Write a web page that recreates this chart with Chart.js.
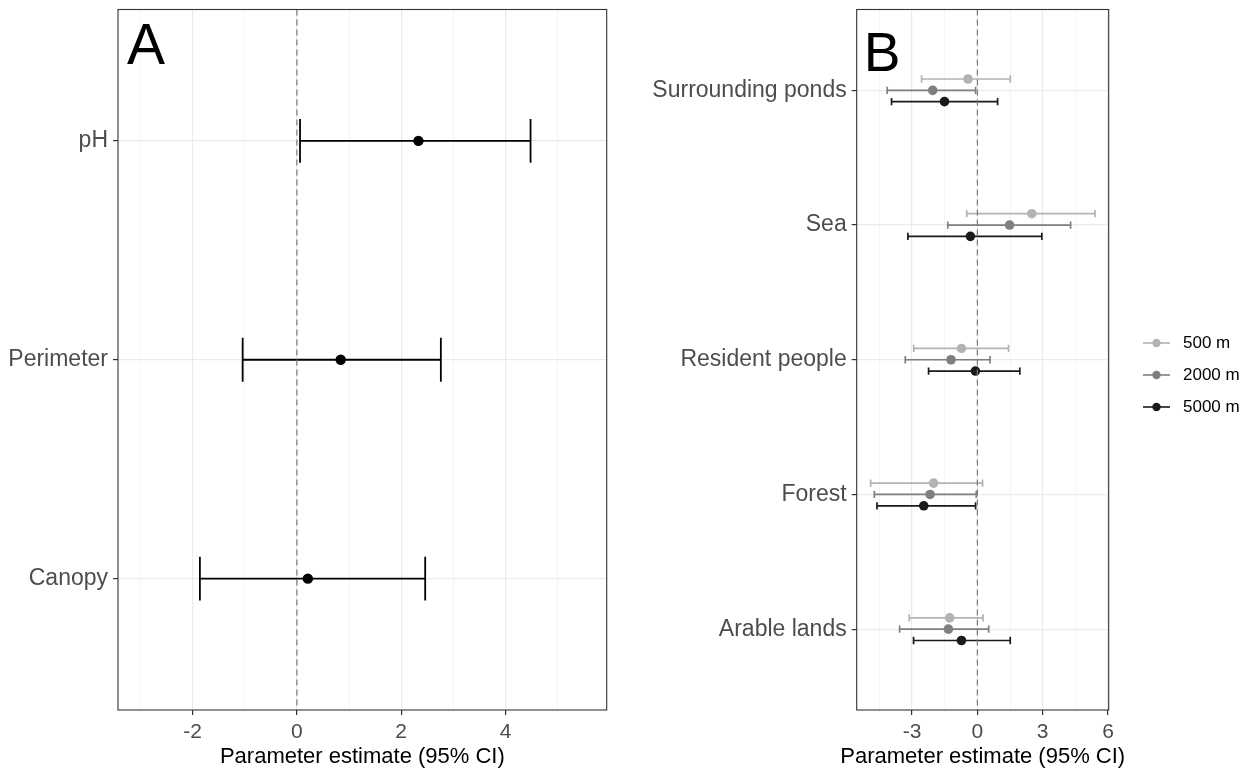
<!DOCTYPE html>
<html><head><meta charset="utf-8">
<script src="https://cdn.jsdelivr.net/npm/chart.js@4"></script>
<style>
html,body{margin:0;padding:0;background:#fff;}
#wrap{position:relative;width:1254px;height:769px;overflow:hidden;background:#fff;}
#ca{position:absolute;left:0;top:0;}
#cb{position:absolute;left:615px;top:0;}
</style></head><body>
<div id="wrap">
<canvas id="ca" width="620" height="769"></canvas>
<canvas id="cb" width="639" height="769"></canvas>
</div>
<script>
// ---------- data ----------
const xTitle = 'Parameter estimate (95% CI)';

const catsA = ['pH', 'Perimeter', 'Canopy'];
const estA  = [2.33, 0.84, 0.21];
const lowA  = [0.06, -1.04, -1.86];
const highA = [4.48, 2.76, 2.46];
const ticksA = [-2, 0, 2, 4];

const catsB = ['Surrounding ponds', 'Sea', 'Resident people', 'Forest', 'Arable lands'];
const seriesNames = ['500 m', '2000 m', '5000 m'];
const est500  = [-0.43, 2.50, -0.73, -2.01, -1.27];
const low500  = [-2.56, -0.49, -2.92, -4.90, -3.13];
const high500 = [1.51, 5.40, 1.43, 0.24, 0.26];
const est2000  = [-2.05, 1.48, -1.21, -2.17, -1.33];
const low2000  = [-4.14, -1.36, -3.31, -4.73, -3.57];
const high2000 = [-0.08, 4.28, 0.58, -0.05, 0.52];
const est5000  = [-1.51, -0.32, -0.09, -2.46, -0.73];
const low5000  = [-3.94, -3.19, -2.24, -4.61, -2.93];
const high5000 = [0.93, 2.96, 1.95, -0.08, 1.51];
const ticksB = [-3, 0, 3, 6];

// ---------- styling ----------
const FONT = "'Liberation Sans', Arial, sans-serif";
const seriesColors = ['#b3b3b3', '#7f7f7f', '#1a1a1a'];

function points(cats, est, lo, hi, off) {
  const n = cats.length;
  return cats.map((c, i) => ({ x: est[i], y: n - i + off, lo: lo[i], hi: hi[i] }));
}

const errPlugin = {
  id: 'err',
  beforeDatasetsDraw(chart) {
    const { ctx, scales: { x, y } } = chart;
    const a = chart.chartArea;
    ctx.save();
    ctx.beginPath(); ctx.rect(a.left, a.top, a.right - a.left, a.bottom - a.top); ctx.clip();
    chart.data.datasets.forEach(ds => {
      ctx.strokeStyle = ds.barColor; ctx.lineWidth = ds.barWidth;
      ds.data.forEach(p => {
        const x1 = x.getPixelForValue(p.lo), x2 = x.getPixelForValue(p.hi), yy = y.getPixelForValue(p.y);
        const y1 = y.getPixelForValue(p.y + ds.capHalf), y2 = y.getPixelForValue(p.y - ds.capHalf);
        ctx.beginPath();
        ctx.moveTo(x1, yy); ctx.lineTo(x2, yy);
        ctx.moveTo(x1, y1); ctx.lineTo(x1, y2);
        ctx.moveTo(x2, y1); ctx.lineTo(x2, y2);
        ctx.stroke();
      });
    });
    ctx.restore();
  },
  afterDatasetsDraw(chart) {
    const { ctx, scales: { x } } = chart;
    const a = chart.chartArea;
    const px = x.getPixelForValue(0);
    ctx.save();
    ctx.strokeStyle = '#7a7a7a'; ctx.lineWidth = 1.2; ctx.setLineDash([6, 4]);
    ctx.beginPath(); ctx.moveTo(px, a.top); ctx.lineTo(px, a.bottom); ctx.stroke();
    ctx.restore();
  },
  afterDraw(chart, args, opts) {
    const { ctx } = chart;
    const a = chart.chartArea;
    ctx.save();
    ctx.strokeStyle = '#333'; ctx.lineWidth = 1.1;
    ctx.strokeRect(a.left, a.top, a.right - a.left, a.bottom - a.top);
    // panel letter
    ctx.fillStyle = '#000';
    ctx.font = opts.panelSize + 'px ' + FONT;
    ctx.textBaseline = 'alphabetic'; ctx.textAlign = 'left';
    ctx.fillText(opts.panel, a.left + opts.panelDx, opts.panelBase);
    // axis title (drawn without width compression)
    ctx.font = '22px ' + FONT; ctx.textAlign = 'center';
    ctx.fillText(xTitle, (a.left + a.right) / 2, 763);
    // legend
    if (opts.legend) {
      ctx.textAlign = 'left';
      chart.data.datasets.forEach((ds, i) => {
        const yy = opts.legend.y0 + i * opts.legend.dy;
        ctx.strokeStyle = ds.barColor; ctx.lineWidth = 1.6;
        ctx.beginPath(); ctx.moveTo(opts.legend.x0, yy); ctx.lineTo(opts.legend.x0 + 27, yy); ctx.stroke();
        ctx.fillStyle = ds.pointBackgroundColor;
        ctx.beginPath(); ctx.arc(opts.legend.x0 + 13.5, yy, 4.2, 0, Math.PI * 2); ctx.fill();
        ctx.fillStyle = '#000'; ctx.font = '17px ' + FONT; ctx.textBaseline = 'middle';
        ctx.fillText(ds.label, opts.legend.x0 + 40, yy);
      });
    }
    ctx.restore();
  }
};

function makeOpts(cfg) {
  const n = cfg.cats.length;
  return {
    responsive: false, animation: false, events: [],
    layout: { padding: { left: 0, right: cfg.padRight, top: 9.5, bottom: 0 } },
    plugins: {
      legend: { display: false }, tooltip: { enabled: false },
      err: { panel: cfg.panel, panelDx: cfg.panelDx, panelBase: cfg.panelBase, panelSize: cfg.panelSize, legend: cfg.legend }
    },
    scales: {
      x: {
        type: 'linear', min: cfg.xmin, max: cfg.xmax,
        afterBuildTicks: s => { s.ticks = cfg.gridX.map(v => ({ value: v })); },
        afterFit: s => { s.height = 59; s.paddingLeft = 0; s.paddingRight = 0; },
        ticks: {
          autoSkip: false, maxRotation: 0, padding: 5, color: '#4d4d4d',
          font: { family: FONT, size: 21 },
          callback: v => cfg.xTicks.includes(v) ? String(v) : ''
        },
        grid: {
          color: c => cfg.xTicks.includes(c.tick && c.tick.value) ? '#ebebeb' : '#f2f2f2',
          lineWidth: c => cfg.xTicks.includes(c.tick && c.tick.value) ? 1.2 : 0.8,
          tickColor: c => cfg.xTicks.includes(c.tick && c.tick.value) ? '#333' : 'rgba(0,0,0,0)',
          tickLength: 5
        },
        border: { display: false },
        title: { display: false }
      },
      y: {
        type: 'linear', min: 0.4, max: n + 0.6,
        afterBuildTicks: s => { s.ticks = cfg.cats.map((c, i) => ({ value: n - i })); },
        afterFit: s => { s.width = cfg.yWidth; s.paddingTop = 0; s.paddingBottom = 0; },
        ticks: {
          autoSkip: false, padding: 5, color: '#4d4d4d', font: { family: FONT, size: 23 },
          callback: v => cfg.cats[n - v]
        },
        grid: { color: '#ebebeb', lineWidth: 1.2, tickColor: '#333', tickLength: 5 },
        border: { display: false }
      }
    }
  };
}

new Chart(document.getElementById('ca'), {
  type: 'scatter',
  data: {
    datasets: [{
      label: 'A', data: points(catsA, estA, lowA, highA, 0),
      pointRadius: 5.2, pointBorderWidth: 0, pointBackgroundColor: '#000',
      barColor: '#000', barWidth: 1.8, capHalf: 0.1
    }]
  },
  options: makeOpts({
    cats: catsA, xmin: -3.43, xmax: 5.94, gridX: [-3, -2, -1, 0, 1, 2, 3, 4, 5], xTicks: ticksA,
    padRight: 13.3, yWidth: 118, panel: 'A', panelDx: 9, panelBase: 64, panelSize: 57
  }),
  plugins: [errPlugin]
});

const estB = [est500, est2000, est5000], lowB = [low500, low2000, low5000], highB = [high500, high2000, high5000];
const dodge = [0.084, 0, -0.084];
new Chart(document.getElementById('cb'), {
  type: 'scatter',
  data: {
    datasets: seriesNames.map((s, k) => ({
      label: s, data: points(catsB, estB[k], lowB[k], highB[k], dodge[k]),
      pointRadius: 4.8, pointBorderWidth: 0, pointBackgroundColor: seriesColors[k],
      barColor: seriesColors[k], barWidth: 1.7, capHalf: 0.027
    }))
  },
  options: makeOpts({
    cats: catsB, xmin: -5.54, xmax: 6.03, gridX: [-4.5, -3, -1.5, 0, 1.5, 3, 4.5, 6], xTicks: ticksB,
    padRight: 145.3, yWidth: 241.7, panel: 'B', panelDx: 7, panelBase: 71, panelSize: 55,
    legend: { x0: 528, y0: 343, dy: 32 }
  }),
  plugins: [errPlugin]
});
</script>
</body></html>
